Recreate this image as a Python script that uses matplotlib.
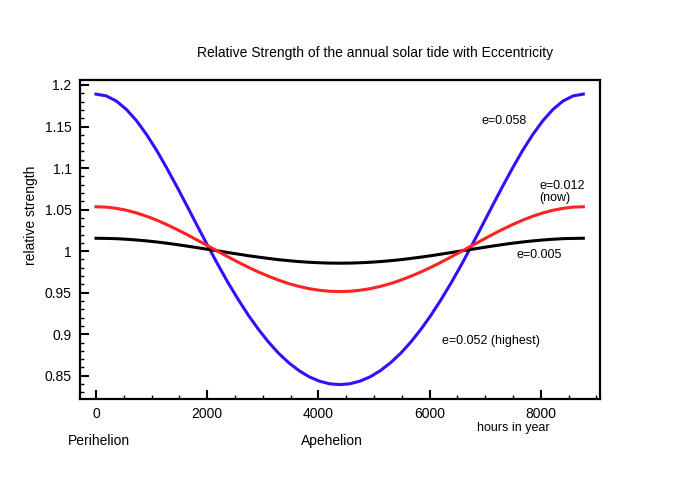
import matplotlib
matplotlib.use("Agg")
import matplotlib.pyplot as plt
from matplotlib.ticker import MultipleLocator, FixedLocator, FixedFormatter

plt.rcParams['font.family'] = ['Liberation Sans', 'DejaVu Sans']

# hours in year (perihelion at 0, aphelion at ~4383)
hours = [0, 183, 365, 548, 731, 913, 1096, 1278, 1461, 1644, 1826, 2009, 2192,
         2374, 2557, 2739, 2922, 3105, 3287, 3470, 3653, 3835, 4018, 4200, 4383,
         4566, 4748, 4931, 5114, 5296, 5479, 5661, 5844, 6027, 6209, 6392, 6575,
         6757, 6940, 7122, 7305, 7488, 7670, 7853, 8036, 8218, 8401, 8583, 8766]

# relative strength, first half of year (perihelion -> aphelion); second half mirrors it
blue_half = [1.1890, 1.1869, 1.1807, 1.1705, 1.1568, 1.1400, 1.1207, 1.0994, 1.0768,
             1.0535, 1.0299, 1.0066, 0.9839, 0.9622, 0.9419, 0.9230, 0.9058, 0.8904,
             0.8769, 0.8655, 0.8561, 0.8487, 0.8435, 0.8403, 0.8393]
red_half = [1.0534, 1.0530, 1.0515, 1.0492, 1.0459, 1.0419, 1.0372, 1.0318, 1.0259,
            1.0197, 1.0131, 1.0065, 0.9998, 0.9932, 0.9867, 0.9806, 0.9749, 0.9697,
            0.9650, 0.9609, 0.9575, 0.9548, 0.9529, 0.9517, 0.9513]
black_half = [1.0155, 1.0153, 1.0150, 1.0143, 1.0134, 1.0123, 1.0110, 1.0095, 1.0078,
              1.0060, 1.0041, 1.0022, 1.0003, 0.9983, 0.9964, 0.9945, 0.9928, 0.9912,
              0.9897, 0.9885, 0.9874, 0.9866, 0.9860, 0.9856, 0.9855]

blue = blue_half + blue_half[-2::-1]
red = red_half + red_half[-2::-1]
black = black_half + black_half[-2::-1]

y_ticks = [0.85, 0.9, 0.95, 1.0, 1.05, 1.1, 1.15, 1.2]
y_labels = ['0.85', '0.9', '0.95', '1', '1.05', '1.1', '1.15', '1.2']

fig = plt.figure(figsize=(6.8, 4.8), dpi=100)
ax = fig.add_axes([80/680, 1 - 399/480, 520/680, 319/480])

ax.plot(hours, blue, color='#3010ff', lw=2.2)
ax.plot(hours, black, color='black', lw=2.2)
ax.plot(hours, red, color='#ff2222', lw=2.2)

ax.set_xlim(-288, 9066)
ax.set_ylim(0.822, 1.206)

ax.xaxis.set_major_locator(FixedLocator([0, 2000, 4000, 6000, 8000]))
ax.xaxis.set_minor_locator(MultipleLocator(500))
ax.yaxis.set_major_locator(FixedLocator(y_ticks))
ax.yaxis.set_major_formatter(FixedFormatter(y_labels))
ax.yaxis.set_minor_locator(MultipleLocator(0.01))

ax.tick_params(which='both', direction='in', top=False, right=False, labelsize=10)
ax.tick_params(which='major', length=6.5, width=1.5, pad=6)
ax.tick_params(which='minor', length=3.2, width=1.0)
for s in ax.spines.values():
    s.set_linewidth(1.6)

# curve labels
ax.text(6937, 1.1567, 'e=0.058', fontsize=9, va='center')
ax.text(7982, 1.0788, 'e=0.012', fontsize=9, va='center')
ax.text(7982, 1.0640, '(now)', fontsize=9, va='center')
ax.text(7568, 0.9954, 'e=0.005', fontsize=9, va='center')
ax.text(6216, 0.8919, 'e=0.052 (highest)', fontsize=9, va='center')

fig.text(375/680, 1 - 53/480, 'Relative Strength of the annual solar tide with Eccentricity',
         fontsize=10, ha='center', va='center')
fig.text(31/680, 1 - 215/480, 'relative strength', fontsize=10, rotation=90,
         ha='center', va='center')
fig.text(99/680, 1 - 441/480, 'Perihelion', fontsize=10, ha='center', va='center')
fig.text(332/680, 1 - 441/480, 'Apehelion', fontsize=10, ha='center', va='center')
fig.text(513/680, 1 - 428/480, 'hours in year', fontsize=9, ha='center', va='center')

fig.savefig('out.png', dpi=100)
